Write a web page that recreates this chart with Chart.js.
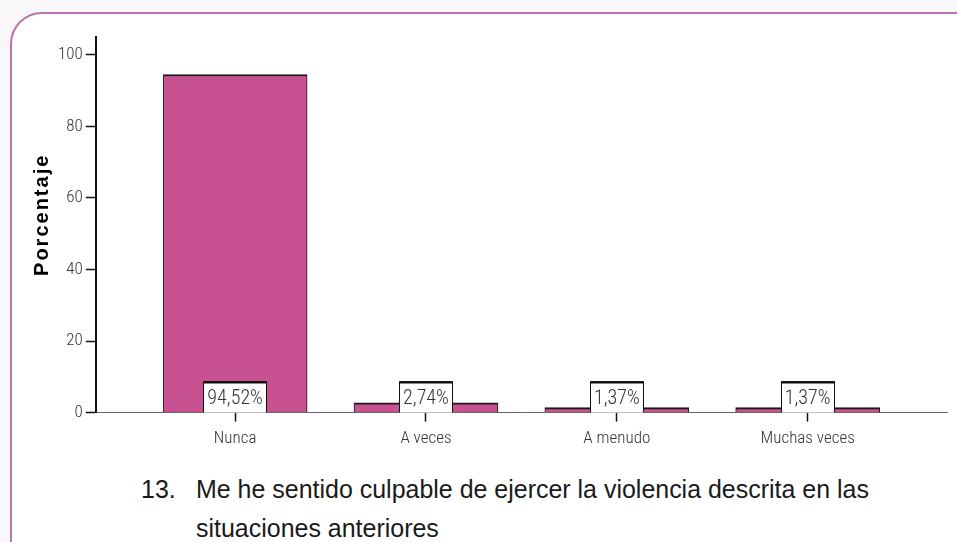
<!DOCTYPE html>
<html>
<head>
<meta charset="utf-8">
<script src="https://cdn.jsdelivr.net/npm/chart.js@4.4.1/dist/chart.umd.min.js"></script>
<style>
  body { margin: 0; background: #f9f7f9; width: 957px; height: 542px; overflow: hidden; position: relative; font-family: "Liberation Sans", Arial, sans-serif; }
  #frame { position: absolute; left: 10px; top: 12px; width: 980px; height: 600px; border: 2.5px solid #b874b0; border-radius: 32px; background: #fff; }
  #wrap { position: absolute; left: 0; top: 0; width: 957px; height: 456px; }
  .cap { position: absolute; color: #1a1a1a; font-size: 26px; white-space: nowrap; transform: scaleX(0.96); transform-origin: 0 0; }
</style>
</head>
<body>
<div id="frame"></div>
<div id="wrap"><canvas id="chart"></canvas></div>
<div class="cap" style="left:141px; top:474px;">13.</div>
<div class="cap" style="left:196px; top:474px;">Me he sentido culpable de ejercer la violencia descrita en las</div>
<div class="cap" style="left:196px; top:513px;">situaciones anteriores</div>
<script>
const categories = ['Nunca', 'A veces', 'A menudo', 'Muchas veces'];
const percentages = [94.52, 2.74, 1.37, 1.37];
const valueLabels = ['94,52%', '2,74%', '1,37%', '1,37%'];
const yTicks = [0, 20, 40, 60, 80, 100];
const yTitle = 'Porcentaje';

const sans = '"Liberation Sans", Arial, sans-serif';
const narrow = '"Roboto Condensed", "DejaVu Sans Condensed", "Liberation Sans", sans-serif';

// white boxes with the percentage at the foot of each bar, plus the y title
const boxLabels = {
    id: 'boxLabels',
    afterDatasetsDraw(chart) {
        const ctx = chart.ctx;
        const x = chart.scales.x, y = chart.scales.y;
        const base = y.getPixelForValue(0);
        ctx.save();
        ctx.font = '300 20px ' + narrow;
        valueLabels.forEach((txt, i) => {
            const cx = x.getPixelForValue(i);
            const w = Math.round(ctx.measureText(txt).width + 8);
            const h = 31;
            const left = Math.round(cx - w / 2), top = base - h;
            ctx.fillStyle = '#fff';
            ctx.fillRect(left, top, w, h);
            ctx.strokeStyle = '#111';
            ctx.lineWidth = 1;
            ctx.beginPath();
            ctx.moveTo(left + 0.5, base);
            ctx.lineTo(left + 0.5, top);
            ctx.lineTo(left + w - 0.5, top);
            ctx.lineTo(left + w - 0.5, base);
            ctx.stroke();
            ctx.lineWidth = 2;
            ctx.beginPath();
            ctx.moveTo(left, top + 1);
            ctx.lineTo(left + w, top + 1);
            ctx.stroke();
            ctx.fillStyle = '#333';
            ctx.textAlign = 'center';
            ctx.textBaseline = 'middle';
            ctx.fillText(txt, cx, top + h / 2 + 2);
        });
        ctx.restore();

        ctx.save();
        ctx.translate(42, (chart.chartArea.top + chart.chartArea.bottom) / 2 - 10);
        ctx.rotate(-Math.PI / 2);
        ctx.font = 'bold 20px ' + sans;
        ctx.letterSpacing = '2px';
        ctx.fillStyle = '#000';
        ctx.textAlign = 'center';
        ctx.textBaseline = 'middle';
        ctx.fillText(yTitle, 0, 0);
        ctx.restore();
    }
};

new Chart(document.getElementById('chart'), {
    type: 'bar',
    data: {
        datasets: [{
            data: percentages.map((v, i) => ({ x: i, y: v })),
            backgroundColor: '#c85192',
            borderColor: '#1a1a1a',
            borderWidth: { top: 2, left: 1, right: 1, bottom: 0 },
            borderSkipped: 'bottom',
            barThickness: 144
        }]
    },
    options: {
        responsive: true,
        maintainAspectRatio: false,
        animation: false,
        layout: { padding: { left: 55, top: 37, right: 10, bottom: 0 } },
        plugins: {
            legend: { display: false },
            tooltip: { enabled: false }
        },
        scales: {
            x: {
                type: 'linear',
                offset: false,
                min: -0.73,
                max: 3.73,
                afterBuildTicks: s => { s.ticks = categories.map((c, i) => ({ value: i })); },
                ticks: {
                    autoSkip: false,
                    maxRotation: 0,
                    callback: v => categories[v],
                    color: '#333',
                    font: { family: narrow, size: 17, weight: '300' },
                    padding: 7
                },
                grid: { offset: false, drawOnChartArea: false, color: '#111', tickLength: 9, tickWidth: 1.5 },
                border: { color: '#666', width: 1 }
            },
            y: {
                min: 0,
                max: 105,
                afterBuildTicks: s => { s.ticks = yTicks.map(v => ({ value: v })); },
                ticks: {
                    color: '#333',
                    font: { family: narrow, size: 17, weight: '300' },
                    padding: 3
                },
                grid: { drawOnChartArea: false, color: '#111', tickLength: 10, tickWidth: 1.5 },
                border: { color: '#111', width: 2 }
            }
        }
    },
    plugins: [boxLabels]
});
</script>
</body>
</html>
